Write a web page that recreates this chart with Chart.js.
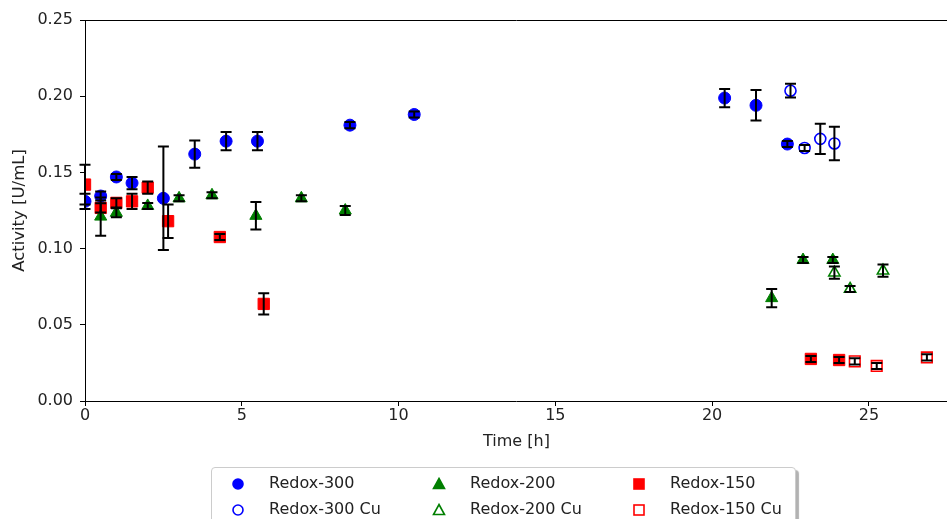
<!DOCTYPE html>
<html>
<head>
<meta charset="utf-8">
<script src="https://cdn.jsdelivr.net/npm/chart.js@4.4.0/dist/chart.umd.min.js"></script>
<style>
  html, body { margin: 0; padding: 0; background: #fff; overflow: hidden; }
  #wrap { position: relative; width: 947px; height: 519px; overflow: hidden; }
  #legend {
    position: absolute; left: 211px; top: 467px; width: 583px; height: 70px;
    border: 1px solid #cccccc; border-radius: 4px; background: #fff;
    box-shadow: 3px 3px 1px rgba(0,0,0,0.3);
    font-family: 'DejaVu Sans', sans-serif; font-size: 16px; color: #222;
  }
  .lg-mark { position: absolute; }
  .lg-text { position: absolute; line-height: 20px; white-space: nowrap; }
</style>
</head>
<body>
<div id="wrap">
  <!-- canvas is a bit wider than the window: the axes box runs off the right edge like the original -->
  <canvas id="myChart" width="957" height="519"></canvas>
  <div id="legend"></div>
</div>
<script>
  // time [h], activity [U/mL], error
  const r300Time = [0, 0.5, 1, 1.5, 2.5, 3.5, 4.5, 5.5, 8.45, 10.5, 20.4, 21.4, 22.4];
  const r300Act  = [0.131, 0.1345, 0.147, 0.143, 0.133, 0.162, 0.1705, 0.1705, 0.181, 0.188, 0.1988, 0.194, 0.1686];
  const r300Err  = [0.005, 0.003, 0.002, 0.004, 0.034, 0.009, 0.006, 0.006, 0.002, 0.002, 0.006, 0.010, 0.002];

  const r300CuTime = [22.5, 22.95, 23.45, 23.9];
  const r300CuAct  = [0.2036, 0.166, 0.172, 0.169];
  const r300CuErr  = [0.0045, 0.002, 0.010, 0.011];

  const r200Time = [0.5, 1, 2, 3, 4.05, 5.45, 6.9, 8.3, 21.9, 22.9, 23.85];
  const r200Act  = [0.121, 0.1235, 0.128, 0.133, 0.135, 0.1215, 0.133, 0.125, 0.0675, 0.0925, 0.0925];
  const r200Err  = [0.0125, 0.003, 0.002, 0.002, 0.002, 0.009, 0.002, 0.003, 0.006, 0.002, 0.002];

  const r200CuTime = [23.9, 24.4, 25.45];
  const r200CuAct  = [0.0842, 0.0735, 0.0855];
  const r200CuErr  = [0.004, 0.002, 0.004];

  const r150Time = [0, 0.5, 1, 1.5, 2, 2.65, 4.3, 5.7, 23.15, 24.05];
  const r150Act  = [0.142, 0.1267, 0.130, 0.131, 0.140, 0.118, 0.1076, 0.0637, 0.0276, 0.0269];
  const r150Err  = [0.013, 0.003, 0.003, 0.005, 0.004, 0.011, 0.002, 0.007, 0.002, 0.002];

  const r150CuTime = [24.55, 25.25, 26.85];
  const r150CuAct  = [0.026, 0.023, 0.0286];
  const r150CuErr  = [0.002, 0.002, 0.002];

  const yTicks = [0, 0.05, 0.10, 0.15, 0.20, 0.25];
  const xTicks = [0, 5, 10, 15, 20, 25];

  function pts(t, v) {
    return t.map(function (x, i) { return { x: x, y: v[i] }; });
  }

  const BLUE = '#0000ff', GREEN = '#007f00', RED = '#ff0000';

  const datasets = [
    { label: 'Redox-300', data: pts(r300Time, r300Act), errors: r300Err,
      pointStyle: 'circle', pointRadius: 6, backgroundColor: BLUE, borderColor: BLUE, borderWidth: 1 },
    { label: 'Redox-300 Cu', data: pts(r300CuTime, r300CuAct), errors: r300CuErr,
      pointStyle: 'circle', pointRadius: 5.5, backgroundColor: 'rgba(255,255,255,0)', borderColor: BLUE, borderWidth: 1.6 },
    { label: 'Redox-200', data: pts(r200Time, r200Act), errors: r200Err,
      pointStyle: 'triangle', pointRadius: 7, backgroundColor: GREEN, borderColor: GREEN, borderWidth: 1 },
    { label: 'Redox-200 Cu', data: pts(r200CuTime, r200CuAct), errors: r200CuErr,
      pointStyle: 'triangle', pointRadius: 6.5, backgroundColor: 'rgba(255,255,255,0)', borderColor: GREEN, borderWidth: 1.6 },
    { label: 'Redox-150', data: pts(r150Time, r150Act), errors: r150Err,
      pointStyle: 'rect', pointRadius: 8, backgroundColor: RED, borderColor: RED, borderWidth: 1 },
    { label: 'Redox-150 Cu', data: pts(r150CuTime, r150CuAct), errors: r150CuErr,
      pointStyle: 'rect', pointRadius: 7.5, backgroundColor: 'rgba(255,255,255,0)', borderColor: RED, borderWidth: 1.6 }
  ];

  // black error bars with caps, drawn on top of the markers
  const errorBars = {
    id: 'errorBars',
    afterDatasetsDraw(chart) {
      const ctx = chart.ctx;
      const xs = chart.scales.x, ys = chart.scales.y;
      ctx.save();
      ctx.beginPath();
      ctx.rect(chart.chartArea.left - 10, 0, chart.width, chart.height);
      ctx.clip();
      ctx.strokeStyle = '#000';
      ctx.lineWidth = 2;
      chart.data.datasets.forEach(function (ds) {
        ds.data.forEach(function (p, i) {
          const e = ds.errors[i];
          const px = xs.getPixelForValue(p.x);
          const top = ys.getPixelForValue(p.y + e);
          const bot = ys.getPixelForValue(p.y - e);
          ctx.beginPath();
          ctx.moveTo(px, top); ctx.lineTo(px, bot);
          ctx.moveTo(px - 5.5, top); ctx.lineTo(px + 5.5, top);
          ctx.moveTo(px - 5.5, bot); ctx.lineTo(px + 5.5, bot);
          ctx.stroke();
        });
      });
      ctx.restore();
    }
  };

  // top spine of the axes box
  const topSpine = {
    id: 'topSpine',
    afterDraw(chart) {
      const a = chart.chartArea, ctx = chart.ctx;
      ctx.save();
      ctx.strokeStyle = '#000';
      ctx.lineWidth = 1;
      ctx.beginPath();
      ctx.moveTo(a.left, a.top + 0.5);
      ctx.lineTo(a.right, a.top + 0.5);
      ctx.stroke();
      ctx.restore();
    }
  };

  Chart.defaults.font.family = "'DejaVu Sans', sans-serif";
  Chart.defaults.font.size = 16;
  Chart.defaults.color = '#222';

  const config = {
    type: 'scatter',
    data: { datasets: datasets },
    options: {
      responsive: false,
      animation: false,
      layout: { padding: { top: 20, right: 0, bottom: 68, left: 0 } },
      plugins: {
        legend: { display: false },
        tooltip: { enabled: false }
      },
      scales: {
        x: {
          type: 'linear',
          min: 0,
          max: 27.52,
          afterFit: function (s) { s.height = 50; },
          afterBuildTicks: function (s) { s.ticks = xTicks.map(function (v) { return { value: v }; }); },
          ticks: { padding: 0, maxRotation: 0, callback: function (v) { return v; } },
          grid: { display: true, drawOnChartArea: false, drawTicks: true, tickLength: 5, color: '#000' },
          border: { display: true, color: '#000', width: 1 },
          title: { display: true, text: 'Time [h]', padding: { top: 3, bottom: 0 } }
        },
        y: {
          type: 'linear',
          min: 0,
          max: 0.25,
          afterFit: function (s) { s.width = 85; },
          afterBuildTicks: function (s) { s.ticks = yTicks.map(function (v) { return { value: v }; }); },
          ticks: { padding: 7, callback: function (v) { return v.toFixed(2); } },
          grid: { display: true, drawOnChartArea: false, drawTicks: true, tickLength: 5, color: '#000' },
          border: { display: true, color: '#000', width: 1 },
          title: { display: true, text: 'Activity [U/mL]', font: { size: 16.5 }, padding: { top: 10, bottom: 2 } }
        }
      }
    },
    plugins: [errorBars, topSpine]
  };

  const myChart = new Chart(document.getElementById('myChart'), config);

  // legend below the plot, 3 columns x 2 rows
  const legendCols = [26, 227, 427];
  const legendRows = [15, 41];
  const legendTextGap = 31;

  function markerSvg(ds) {
    const c = ds.borderColor;
    const fill = ds.backgroundColor === c ? c : 'none';
    let shape;
    if (ds.pointStyle === 'circle') shape = '<circle cx="7" cy="7" r="5" fill="' + fill + '" stroke="' + c + '" stroke-width="1.6"/>';
    else if (ds.pointStyle === 'triangle') shape = '<polygon points="7,1.5 12.5,11.5 1.5,11.5" fill="' + fill + '" stroke="' + c + '" stroke-width="1.6"/>';
    else shape = '<rect x="2" y="2" width="10" height="10" fill="' + fill + '" stroke="' + c + '" stroke-width="1.6"/>';
    return '<svg width="14" height="14">' + shape + '</svg>';
  }

  const legendEl = document.getElementById('legend');
  let html = '';
  datasets.forEach(function (ds, i) {
    const col = Math.floor(i / 2), row = i % 2;
    const cx = legendCols[col], cy = legendRows[row];
    html += '<div class="lg-mark" style="left:' + (cx - 7) + 'px;top:' + (cy - 7) + 'px">' + markerSvg(ds) + '</div>';
    html += '<div class="lg-text" style="left:' + (cx + legendTextGap) + 'px;top:' + (cy - 10) + 'px">' + ds.label + '</div>';
  });
  legendEl.innerHTML = html;
</script>
</body>
</html>
